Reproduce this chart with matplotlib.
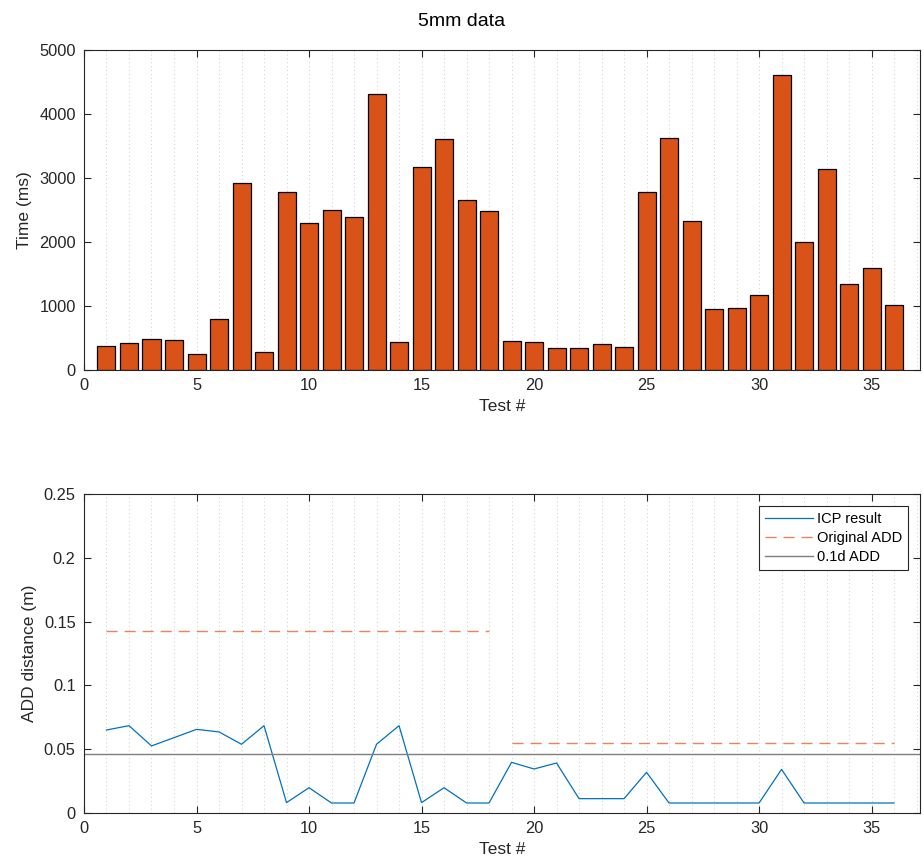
import matplotlib.pyplot as plt
import numpy as np
from matplotlib.ticker import MultipleLocator

plt.rcParams['font.family'] = ['Liberation Sans', 'DejaVu Sans']

# test numbers
tests = np.arange(1, 37)

# time per test (ms)
times = [370, 418, 491, 470, 245, 804, 2923, 277, 2782, 2291, 2505, 2396,
         4306, 438, 3168, 3601, 2651, 2490, 449, 444, 344, 350, 402, 360,
         2777, 3622, 2323, 950, 966, 1169, 4609, 2004, 3147, 1347, 1592, 1018]

# ICP result ADD distance (m)
icp = [0.0649, 0.0683, 0.0524, 0.0589, 0.0654, 0.0634, 0.0537, 0.0683, 0.0079,
       0.0196, 0.0076, 0.0076, 0.0537, 0.0683, 0.0079, 0.0196, 0.0076, 0.0076,
       0.0395, 0.0343, 0.0390, 0.0110, 0.0110, 0.0110, 0.0317, 0.0076, 0.0076,
       0.0076, 0.0076, 0.0076, 0.0340, 0.0076, 0.0076, 0.0076, 0.0076, 0.0076]

# original ADD, two object groups
orig_tests_a = [1, 18]
orig_add_a = [0.1430, 0.1430]
orig_tests_b = [19, 36]
orig_add_b = [0.0548, 0.0548]

thresh_add = 0.0458

axcol = '#262626'
bar_col = '#D95319'
line_col = '#0072BD'


def style_axes(ax):
    for s in ax.spines.values():
        s.set_color(axcol)
        s.set_linewidth(0.8)
    ax.tick_params(direction='in', which='both', top=True, right=True,
                   colors=axcol, labelsize=11.8, length=5, pad=6)
    ax.tick_params(which='minor', length=0)
    ax.xaxis.set_major_locator(MultipleLocator(5))
    ax.xaxis.set_minor_locator(MultipleLocator(1))
    ax.grid(True, which='both', axis='x', linestyle=(0, (1, 3)),
            color='#cccccc', linewidth=0.7)
    ax.set_axisbelow(True)
    ax.set_xlim(0, 37.15)


fig = plt.figure(figsize=(9.23, 8.64), dpi=100)
fig.suptitle('5mm data', fontsize=14, y=0.985)

ax1 = fig.add_axes([0.091, 0.5718, 0.9057, 0.3704])
ax1.bar(tests, times, width=0.8, color=bar_col, edgecolor='black', linewidth=0.9)
style_axes(ax1)
ax1.set_ylim(0, 5000)
ax1.yaxis.set_major_locator(MultipleLocator(1000))
ax1.set_xlabel('Test #', fontsize=12.5, color=axcol, labelpad=4)
ax1.set_ylabel('Time (ms)', fontsize=12.5, color=axcol, labelpad=5)

ax2 = fig.add_axes([0.091, 0.0594, 0.9057, 0.3686])
ax2.plot(tests, icp, color=line_col, linewidth=0.9, label='ICP result')
ax2.plot(orig_tests_a, orig_add_a, color=bar_col, alpha=0.7, linewidth=1.0,
         dashes=(8, 5), label='Original ADD')
ax2.plot(orig_tests_b, orig_add_b, color=bar_col, alpha=0.7, linewidth=1.0,
         dashes=(8, 5))
ax2.axhline(thresh_add, color='#7f7f7f', linewidth=1.0, label='0.1d ADD')
style_axes(ax2)
ax2.set_ylim(0, 0.25)
ax2.set_yticks([0, 0.05, 0.1, 0.15, 0.2, 0.25])
ax2.set_yticklabels(['0', '0.05', '0.1', '0.15', '0.2', '0.25'])
ax2.set_xlabel('Test #', fontsize=12.5, color=axcol, labelpad=4)
ax2.set_ylabel('ADD distance (m)', fontsize=12.5, color=axcol, labelpad=5)
leg = ax2.legend(loc='upper right', fontsize=10.5, frameon=True, fancybox=False,
                 edgecolor=axcol, framealpha=1, handlelength=3.3,
                 handletextpad=0.3, borderaxespad=0.8, labelspacing=0.35)
leg.get_frame().set_linewidth(0.8)

fig.savefig('out.png', dpi=100)
plt.close()
